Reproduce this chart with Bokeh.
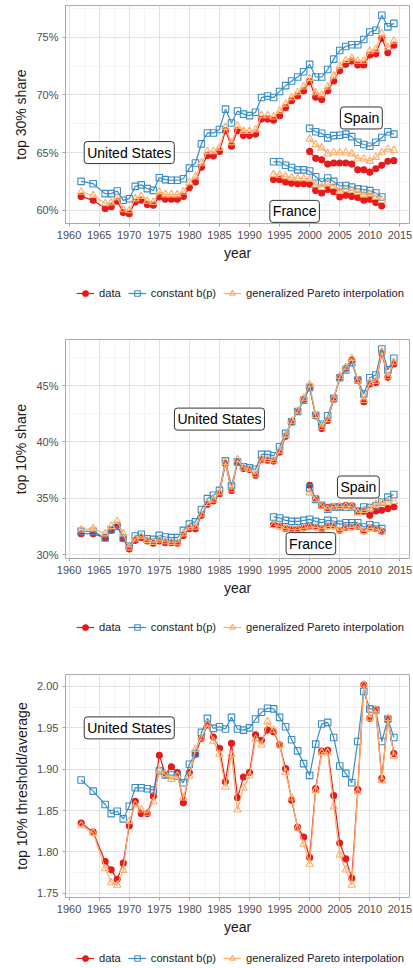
from bokeh.plotting import figure
from bokeh.models import Range1d, FixedTicker, PrintfTickFormatter, Label, Legend, LegendItem
from bokeh.layouts import column
from bokeh.embed import file_html
from bokeh.resources import INLINE

FONT = "Liberation Sans"

# ---------------- data ----------------
US_YEARS = [1962, 1964, 1966, 1967, 1968, 1969, 1970, 1971, 1972, 1973, 1974, 1975,
            1976, 1977, 1978, 1979, 1980, 1981, 1982, 1983, 1984, 1985,
            1986, 1987, 1988, 1989, 1990, 1991, 1992, 1993, 1994, 1995,
            1996, 1997, 1998, 1999, 2000, 2001, 2002, 2003, 2004, 2005,
            2006, 2007, 2008, 2009, 2010, 2011, 2012, 2013, 2014]
ES_YEARS = [2000, 2001, 2002, 2003, 2004, 2005, 2006, 2007, 2008, 2009, 2010, 2011, 2012, 2013, 2014]
FR_YEARS = [1994, 1995, 1996, 1997, 1998, 1999, 2000, 2001, 2002, 2003, 2004, 2005, 2006,
            2007, 2008, 2009, 2010, 2011, 2012]

# Panel 1: top 30% share (%)
P1_US_DATA = [61.2, 60.86, 60.15, 60.3, 60.78, 59.8, 59.7, 60.72, 60.86, 60.5, 60.43, 61.15,
              60.95, 60.95, 60.95, 61.2, 61.95, 62.44, 63.73, 64.74, 64.7, 65.1,
              66.9, 65.55, 66.9, 66.47, 66.47, 66.6, 67.9, 67.9, 67.8, 68.2,
              68.9, 69.5, 69.9, 70.35, 71.15, 69.8, 69.6, 70.35, 71.2, 72.1,
              72.65, 72.93, 72.6, 72.6, 73.45, 73.56, 74.9, 73.65, 74.3]
P1_US_CONST = [62.5, 62.3, 61.44, 61.44, 61.67, 60.86, 61.0, 62.07, 62.2, 61.87, 61.72, 62.82,
               62.65, 62.6, 62.6, 62.73, 63.65, 64.1, 65.75, 66.7, 66.7, 67.0,
               68.77, 67.56, 68.6, 68.33, 68.2, 68.5, 69.77, 69.9, 69.77, 70.3,
               70.8, 71.2, 71.55, 72.0, 72.65, 71.55, 71.55, 72.2, 73.1, 73.85,
               74.2, 74.35, 74.35, 74.8, 75.45, 75.6, 76.9, 75.9, 76.2]
P1_US_GPI = [61.58, 61.3, 60.58, 60.65, 61.1, 60.06, 59.97, 61.0, 61.2, 60.8, 60.7, 61.6,
             61.35, 61.35, 61.35, 61.6, 62.4, 62.9, 64.1, 65.1, 65.1, 65.4,
             67.2, 65.85, 67.3, 66.85, 66.85, 67.0, 68.2, 68.2, 68.1, 68.6,
             69.2, 69.77, 70.2, 70.7, 71.44, 70.2, 70.0, 70.7, 71.64, 72.5,
             73.0, 73.2, 72.93, 72.93, 73.8, 73.94, 75.3, 74.1, 74.66]
P1_ES_DATA = [65.1, 64.5, 64.37, 64.0, 64.1, 64.1, 64.1, 64.0, 63.5, 63.5, 63.3, 63.6, 63.9, 64.25, 64.3]
P1_ES_CONST = [67.1, 66.8, 66.67, 66.27, 66.47, 66.5, 66.6, 66.38, 65.9, 65.7, 65.55, 65.9, 66.3, 66.8, 66.6]
P1_ES_GPI = [66.18, 65.7, 65.4, 64.9, 65.0, 65.0, 65.0, 64.9, 64.45, 64.45, 64.25, 64.6, 65.0, 65.3, 65.2]
P1_FR_DATA = [62.67, 62.65, 62.45, 62.35, 62.3, 62.3, 62.25, 61.72, 61.5, 61.8, 61.6, 61.15, 61.3,
              61.2, 61.1, 60.86, 60.95, 60.66, 60.37]
P1_FR_CONST = [64.2, 64.2, 63.9, 63.7, 63.5, 63.5, 63.4, 62.9, 62.45, 62.8, 62.5, 62.1, 62.15,
               62.0, 61.85, 61.8, 61.7, 61.5, 61.15]
P1_FR_GPI = [63.1, 63.05, 62.93, 62.8, 62.75, 62.75, 62.7, 62.2, 61.98, 62.3, 62.1, 61.67, 61.8,
             61.72, 61.58, 61.35, 61.4, 61.15, 60.86]

# Panel 2: top 10% share (%)
P2_US_DATA = [31.85, 31.85, 31.5, 32.15, 32.6, 31.4, 30.5, 31.26, 31.5, 31.2, 31.0, 31.2,
              31.05, 31.05, 31.0, 31.7, 32.3, 32.3, 33.5, 34.47, 34.76, 35.4,
              38.09, 35.7, 38.2, 37.64, 37.55, 37.05, 38.44, 38.38, 38.3, 39.1,
              40.5, 41.8, 42.7, 43.8, 44.85, 42.3, 41.2, 41.9, 43.8, 45.74,
              46.54, 47.28, 45.5, 43.58, 45.15, 45.27, 47.88, 45.74, 46.93]
P2_US_CONST = [32.06, 32.06, 31.47, 32.2, 32.5, 31.47, 30.73, 31.65, 31.8, 31.4, 31.35, 31.7,
               31.56, 31.5, 31.5, 32.15, 32.7, 32.9, 34.0, 34.97, 35.27, 35.7,
               38.32, 36.1, 38.23, 37.8, 37.7, 37.58, 38.9, 38.9, 38.77, 39.57,
               40.76, 41.8, 42.7, 43.7, 44.85, 42.37, 41.57, 42.33, 43.87, 45.7,
               46.4, 47.05, 45.5, 44.26, 45.7, 45.95, 48.26, 46.4, 47.43]
P2_US_GPI = [32.2, 32.3, 31.85, 32.5, 32.95, 31.85, 30.6, 31.4, 31.6, 31.25, 31.1, 31.3,
             31.15, 31.1, 31.05, 31.85, 32.4, 32.45, 33.6, 34.55, 34.85, 35.5,
             38.2, 35.77, 38.44, 37.7, 37.6, 37.1, 38.5, 38.45, 38.35, 39.2,
             40.6, 41.85, 42.75, 43.9, 45.1, 42.35, 41.3, 42.0, 43.85, 45.85,
             46.65, 47.43, 45.45, 43.7, 45.25, 45.4, 48.0, 45.8, 47.1]
P2_ES_DATA = [36.16, 34.97, 34.38, 34.17, 34.23, 34.29, 34.38, 34.32, 33.84, 33.84, 33.49, 33.87, 33.93, 34.08, 34.23]
P2_ES_CONST = [35.92, 34.9, 34.38, 34.02, 34.23, 34.23, 34.23, 34.23, 33.87, 34.23, 34.17, 34.32, 34.67, 35.1, 35.33]
P2_ES_GPI = [35.47, 34.9, 34.32, 34.02, 34.23, 34.29, 34.29, 34.23, 33.72, 33.93, 34.08, 34.47, 34.61, 34.67, 34.73]
P2_FR_DATA = [32.65, 32.53, 32.3, 32.24, 32.24, 32.36, 32.5, 32.45, 32.3, 32.53, 32.53, 32.15, 32.39,
              32.45, 32.5, 32.09, 32.36, 32.3, 32.06]
P2_FR_CONST = [33.34, 33.25, 33.04, 32.95, 32.95, 33.04, 33.13, 32.95, 32.83, 33.04, 32.98, 32.68, 32.83,
               32.83, 32.83, 32.45, 32.65, 32.53, 32.3]
P2_FR_GPI = [32.6, 32.5, 32.3, 32.22, 32.22, 32.33, 32.45, 32.42, 32.27, 32.5, 32.5, 32.12, 32.36,
             32.42, 32.47, 32.05, 32.33, 32.27, 32.02]

# Panel 3: top 10% threshold / average
P3_US_DATA = [1.835, 1.824, 1.7885, 1.7784, 1.767, 1.7865, 1.8318, 1.8614, 1.8464, 1.8464, 1.8675, 1.917,
              1.894, 1.903, 1.896, 1.8594, 1.896, 1.918, 1.9376, 1.9534, 1.939, 1.9254,
              1.885, 1.9315, 1.8655, 1.8906, 1.896, 1.9417, 1.935, 1.9473, 1.9453, 1.9295,
              1.9007, 1.8626, 1.8298, 1.818, 1.7934, 1.8768, 1.922, 1.923, 1.8683, 1.8108,
              1.7917, 1.7682, 1.8756, 2.002, 1.9615, 1.972, 1.889, 1.9607, 1.919]
P3_US_CONST = [1.887, 1.8736, 1.8574, 1.8464, 1.8493, 1.84, 1.8553, 1.8776, 1.8776, 1.8764, 1.8748, 1.898,
               1.893, 1.893, 1.8918, 1.8837, 1.906, 1.919, 1.9445, 1.9615, 1.9494, 1.9514,
               1.9486, 1.9627, 1.9486, 1.9473, 1.95, 1.9607, 1.9688, 1.9737, 1.9729, 1.9627,
               1.9514, 1.9356, 1.9222, 1.9068, 1.8926, 1.9303, 1.9546, 1.9566, 1.9384, 1.904,
               1.895, 1.8837, 1.9335, 1.9939, 1.9729, 1.9716, 1.9335, 1.9607, 1.9384]
P3_US_GPI = [1.832, 1.823, 1.78, 1.763, 1.760, 1.778, 1.837, 1.857, 1.851, 1.847, 1.861, 1.898,
             1.894, 1.888, 1.892, 1.8655, 1.892, 1.924, 1.938, 1.9546, 1.934, 1.918,
             1.8784, 1.918, 1.851, 1.8776, 1.892, 1.9364, 1.9295, 1.9575, 1.9473, 1.9295,
             1.896, 1.8655, 1.829, 1.8096, 1.7853, 1.8744, 1.920, 1.920, 1.8545, 1.7966,
             1.7784, 1.760, 1.8728, 2.002, 1.962, 1.972, 1.8865, 1.9615, 1.9161]

METHODS = ["data", "constant b(p)", "generalized Pareto interpolation"]
X_TICKS = [1960, 1965, 1970, 1975, 1980, 1985, 1990, 1995, 2000, 2005, 2010, 2015]
X_MINOR = [1957.5, 1962.5, 1967.5, 1972.5, 1977.5, 1982.5, 1987.5, 1992.5, 1997.5, 2002.5, 2007.5, 2012.5, 2017.5]

P1_TICKS = [60, 65, 70, 75]
P1_MINOR = [57.5, 62.5, 67.5, 72.5, 77.5]
P2_TICKS = [30, 35, 40, 45]
P2_MINOR = [27.5, 32.5, 37.5, 42.5, 47.5]
P3_TICKS = [1.75, 1.80, 1.85, 1.90, 1.95, 2.00]
P3_MINOR = [1.775, 1.825, 1.875, 1.925, 1.975]

# ---------------- style ----------------
STYLE = {
    "data": dict(color="#e41a1c", marker="circle", size=6, fill="#e41a1c", fill_alpha=1.0),
    "constant b(p)": dict(color="#3a8cc4", marker="square", size=6.5, fill="white", fill_alpha=0.0),
    "generalized Pareto interpolation": dict(color="#fdae6b", marker="triangle", size=7.5, fill="white", fill_alpha=0.0),
}
W = 412


def make_panel(height, top, yrange, yticks, yminor, yfmt, ylabel, series, labels):
    p = figure(width=W, height=height,
               x_range=Range1d(1959.4, 2016.6), y_range=Range1d(*yrange),
               output_backend="svg", toolbar_location=None,
               min_border_left=65, min_border_right=3, min_border_top=top,
               min_border_bottom=40)
    p.background_fill_color = "white"
    p.border_fill_color = "white"
    p.outline_line_color = "#a8a8a8"
    p.outline_line_width = 1

    p.xaxis.ticker = FixedTicker(ticks=X_TICKS, minor_ticks=X_MINOR)
    p.yaxis.ticker = FixedTicker(ticks=yticks, minor_ticks=yminor)
    p.yaxis.formatter = PrintfTickFormatter(format=yfmt)

    for ax in (p.xaxis[0], p.yaxis[0]):
        ax.axis_line_color = None
        ax.major_tick_line_color = "#a8a8a8"
        ax.major_tick_in = 0
        ax.major_tick_out = 3
        ax.minor_tick_line_color = None
        ax.major_label_text_font = FONT
        ax.major_label_text_font_size = "11px"
        ax.major_label_text_color = "#4d4d4d"
        ax.axis_label_text_font = FONT
        ax.axis_label_text_font_size = "14px"
        ax.axis_label_text_font_style = "normal"
        ax.axis_label_text_color = "#1a1a1a"
    p.xaxis.axis_label = "year"
    p.yaxis.axis_label = ylabel
    p.xaxis.major_label_standoff = 3
    p.xaxis.axis_label_standoff = 3
    p.yaxis.major_label_standoff = 3
    p.yaxis.axis_label_standoff = 4

    for g in (p.xgrid[0], p.ygrid[0]):
        g.grid_line_color = "#e2e2e2"
        g.grid_line_width = 1
        g.minor_grid_line_color = "#f1f1f1"
        g.minor_grid_line_width = 0.8

    for m in METHODS:
        st = STYLE[m]
        for years, values in series[m]:
            p.line(years, values, line_color=st["color"], line_width=1.2)
            p.scatter(years, values, marker=st["marker"], size=st["size"],
                      line_color=st["color"], line_width=1.1,
                      fill_color=st["fill"], fill_alpha=st["fill_alpha"])

    for (lx, ly, txt) in labels:
        p.add_layout(Label(x=lx, y=ly, text=txt, text_align="center", text_baseline="middle",
                           text_font=FONT, text_font_size="14px", text_color="black",
                           background_fill_color="white", border_line_color="#333333",
                           border_line_width=1, padding=3, border_radius=3))
    return p


def make_legend(height, ly, series):
    # legend-only strip: the series are drawn far outside its (empty) view, only the key shows
    lf = figure(width=W, height=height, x_range=Range1d(0, 1), y_range=Range1d(0, 1),
                output_backend="svg", toolbar_location=None,
                x_axis_location=None, y_axis_location=None,
                min_border_left=65, min_border_right=3, min_border_top=0, min_border_bottom=0)
    lf.outline_line_color = None
    lf.xgrid.visible = False
    lf.ygrid.visible = False
    items = []
    for m in METHODS:
        st = STYLE[m]
        years, values = series[m][0]
        ln = lf.line(years, values, line_color=st["color"], line_width=1.2)
        sc = lf.scatter(years, values, marker=st["marker"], size=st["size"],
                        line_color=st["color"], line_width=1.1,
                        fill_color=st["fill"], fill_alpha=st["fill_alpha"])
        items.append(LegendItem(label=m, renderers=[ln, sc]))
    legend = Legend(items=items, orientation="horizontal", location=(11, ly))
    legend.label_text_font = FONT
    legend.label_text_font_size = "11.2px"
    legend.label_text_color = "#1a1a1a"
    legend.glyph_width = 18
    legend.glyph_height = 14
    legend.label_standoff = 5
    legend.spacing = 7
    legend.padding = 2
    legend.margin = 0
    legend.border_line_color = None
    legend.background_fill_alpha = 0
    lf.add_layout(legend, "center")
    return lf


S1 = {"data": [(US_YEARS, P1_US_DATA), (ES_YEARS, P1_ES_DATA), (FR_YEARS, P1_FR_DATA)],
      "constant b(p)": [(US_YEARS, P1_US_CONST), (ES_YEARS, P1_ES_CONST), (FR_YEARS, P1_FR_CONST)],
      "generalized Pareto interpolation": [(US_YEARS, P1_US_GPI), (ES_YEARS, P1_ES_GPI), (FR_YEARS, P1_FR_GPI)]}
S2 = {"data": [(US_YEARS, P2_US_DATA), (ES_YEARS, P2_ES_DATA), (FR_YEARS, P2_FR_DATA)],
      "constant b(p)": [(US_YEARS, P2_US_CONST), (ES_YEARS, P2_ES_CONST), (FR_YEARS, P2_FR_CONST)],
      "generalized Pareto interpolation": [(US_YEARS, P2_US_GPI), (ES_YEARS, P2_ES_GPI), (FR_YEARS, P2_FR_GPI)]}
S3 = {"data": [(US_YEARS, P3_US_DATA)],
      "constant b(p)": [(US_YEARS, P3_US_CONST)],
      "generalized Pareto interpolation": [(US_YEARS, P3_US_GPI)]}

p1 = make_panel(263, 5, (58.85, 77.75), P1_TICKS, P1_MINOR, "%d%%", "top 30% share", S1,
                [(1970, 65.0, "United States"), (2008.6, 68.0, "Spain"), (1997.5, 59.9, "France")])
p2 = make_panel(295, 36, (29.65, 49.1), P2_TICKS, P2_MINOR, "%d%%", "top 10% share", S2,
                [(1985, 42.03, "United States"), (2008.1, 36.0, "Spain"), (2000.2, 30.97, "France")])
p3 = make_panel(299, 36, (1.745, 2.0145), P3_TICKS, P3_MINOR, "%.2f", "top 10% threshold/average", S3,
                [(1970, 1.95, "United States")])

l1 = make_legend(40, 3, S1)
l2 = make_legend(40, 4, S2)
l3 = make_legend(28, 0, S3)

layout = column(p1, l1, p2, l2, p3, l3, spacing=0)
open("out.html", "w").write(file_html(layout, INLINE))
